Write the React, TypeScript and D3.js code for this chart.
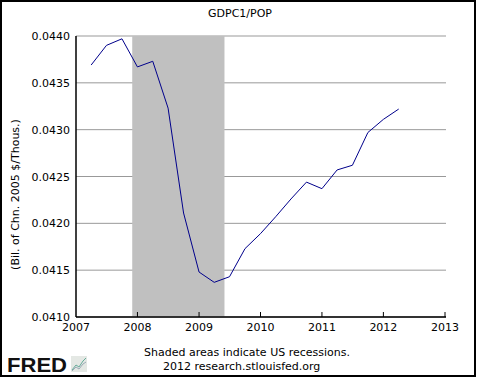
import React from "react";
import * as d3 from "d3";

const dates: string[] = [
  "2007-04-01", "2007-07-01", "2007-10-01",
  "2008-01-01", "2008-04-01", "2008-07-01", "2008-10-01",
  "2009-01-01", "2009-04-01", "2009-07-01", "2009-10-01",
  "2010-01-01", "2010-04-01", "2010-07-01", "2010-10-01",
  "2011-01-01", "2011-04-01", "2011-07-01", "2011-10-01",
  "2012-01-01", "2012-04-01",
];
const values: number[] = [
  0.04369, 0.0439, 0.04397,
  0.04367, 0.04373, 0.04323, 0.04211,
  0.04148, 0.04137, 0.04143, 0.04173,
  0.04189, 0.04207, 0.04226, 0.04244,
  0.04237, 0.04257, 0.04262, 0.04297,
  0.04311, 0.04322,
];
const yTicks: number[] = [0.041, 0.0415, 0.042, 0.0425, 0.043, 0.0435, 0.044];
const xTickYears: number[] = [2007, 2008, 2009, 2010, 2011, 2012, 2013];
const recessions: [string, string][] = [["2007-12-01", "2009-06-01"]];

const title = "GDPC1/POP";
const yLabel = "(Bil. of Chn. 2005 $/Thous.)";
const note1 = "Shaded areas indicate US recessions.";
const note2 = "2012 research.stlouisfed.org";

const FONT = "'DejaVu Sans', Verdana, sans-serif";

export default function App() {
  const W = 480;
  const H = 378;
  const left = 76;
  const right = 445;
  const top = 36;
  const bottom = 317;
  const parse = d3.utcParse("%Y-%m-%d");
  const x = d3
    .scaleUtc()
    .domain([Date.UTC(2007, 0, 1), Date.UTC(2013, 0, 1)])
    .range([left, right]);
  const y = d3.scaleLinear().domain([0.041, 0.044]).range([bottom, top]);
  const pts = dates.map((d, i) => ({ d: parse(d) as Date, v: values[i] }));
  const line = d3
    .line<{ d: Date; v: number }>()
    .x((p) => x(p.d))
    .y((p) => y(p.v));
  const fmt = d3.format(".4f");

  return (
    <svg
      width={W}
      height={H}
      style={{ position: "fixed", left: 0, top: 0, background: "#fff" }}
      fontFamily={FONT}
    >
      <rect x={0} y={0} width={W} height={H} fill="#fff" />
      <rect x={1} y={1} width={474} height={375} fill="none" stroke="#000" strokeWidth={2} />
      <text x={240} y={17} textAnchor="middle" fontSize={11} fill="#000">
        {title}
      </text>
      {yTicks.map((t) => (
        <g key={t}>
          <line x1={left} x2={right + 1} y1={y(t)} y2={y(t)} stroke="#999" strokeWidth={1} />
          <text x={70} y={y(t) + 4} textAnchor="end" fontSize={11} fill="#000">
            {fmt(t)}
          </text>
        </g>
      ))}
      {recessions.map(([s, e]) => (
        <rect
          key={s}
          x={x(parse(s) as Date)}
          y={top}
          width={x(parse(e) as Date) - x(parse(s) as Date)}
          height={bottom - top}
          fill="#c0c0c0"
        />
      ))}
      <path d={line(pts) || ""} fill="none" stroke="#00008b" strokeWidth={1} />
      <line x1={left} x2={left} y1={top} y2={bottom} stroke="#000" strokeWidth={1.5} />
      <line x1={left} x2={right + 1} y1={bottom} y2={bottom} stroke="#000" strokeWidth={1.5} />
      {xTickYears.map((yr) => {
        const xx = x(Date.UTC(yr, 0, 1));
        return (
          <g key={yr}>
            {yr > 2007 && (
              <line x1={xx} x2={xx} y1={bottom} y2={bottom - 5} stroke="#000" strokeWidth={1} />
            )}
            <text x={xx} y={331} textAnchor="middle" fontSize={11} fill="#000">
              {yr}
            </text>
          </g>
        );
      })}
      <text
        transform={`translate(19,${(top + bottom) / 2 + 18}) rotate(-90)`}
        textAnchor="middle"
        fontSize={11}
        fill="#000"
      >
        {yLabel}
      </text>
      <text x={247} y={356} textAnchor="middle" fontSize={11} fill="#000">
        {note1}
      </text>
      <text x={163} y={370} textAnchor="start" fontSize={11} fill="#000">
        {note2}
      </text>
      <text
        x={7}
        y={372}
        fontSize={21}
        fontWeight="bold"
        fill="#111"
        textLength={60}
        lengthAdjust="spacingAndGlyphs"
        fontFamily="'Liberation Sans', Arial, sans-serif"
      >
        FRED
      </text>
      <rect x={71} y={356} width={16} height={16} fill="#e4e8e4" />
      <path d="M72,370 L76,365 L79,367 L83,361 L86,358" fill="none" stroke="#6a9" strokeWidth={1} />
      <path d="M72,371 L76,367 L79,369 L83,364 L86,362" fill="none" stroke="#89a" strokeWidth={0.8} />
    </svg>
  );
}
